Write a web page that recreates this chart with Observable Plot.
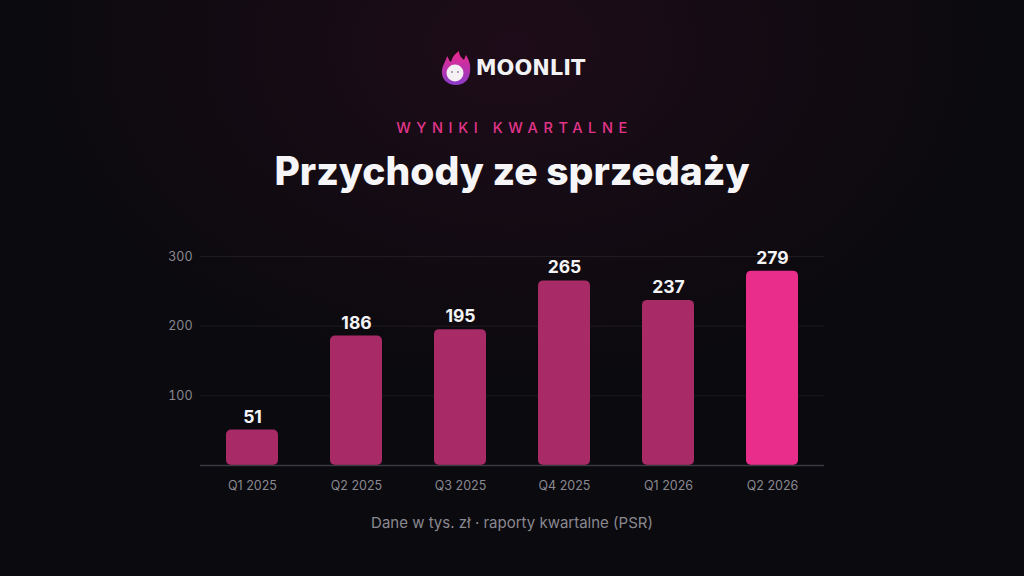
<!DOCTYPE html>
<html>
<head>
<meta charset="utf-8">
<script src="https://cdn.jsdelivr.net/npm/d3@7"></script>
<script src="https://cdn.jsdelivr.net/npm/@observablehq/plot@0.6"></script>
<style>
  html, body { margin: 0; padding: 0; }
  body { width: 1024px; height: 576px; overflow: hidden; background: #0b0a0e; font-family: Inter, "Noto Sans", sans-serif; }
  #page { position: relative; width: 1024px; height: 576px;
    background: radial-gradient(ellipse 480px 340px at 50% 8%, rgba(60,16,42,0.38), rgba(11,10,14,0) 100%), #0b0a0e; }
  #logo { position: absolute; top: 50px; left: 0; width: 1024px; display: flex; justify-content: center; align-items: center; gap: 3px; }
  #logo span { color: #f2f2f4; font-family: "DejaVu Sans", sans-serif; font-weight: bold; font-size: 21px; letter-spacing: 0px; }
  #kicker { position: absolute; top: 119px; width: 1024px; text-align: center; color: #e0358a; font-size: 14.5px; letter-spacing: 5.6px; font-weight: 500; padding-left: 5px; box-sizing: border-box; }
  #title { position: absolute; top: 147px; width: 1024px; text-align: center; color: #f6f6f8; font-size: 39px; font-weight: 800; letter-spacing: 0px; }
  #chart { position: absolute; top: 230px; left: 0; }
  #caption { position: absolute; top: 513px; width: 1024px; text-align: center; color: #8a8991; font-size: 15px; }
</style>
</head>
<body>
<div id="page">
  <div id="logo">
    <svg width="34" height="36" viewBox="0 0 34 36">
      <defs>
        <linearGradient id="fl" x1="0" y1="0" x2="0" y2="1">
          <stop offset="0" stop-color="#f0288c"/>
          <stop offset="1" stop-color="#8a3cc8"/>
        </linearGradient>
      </defs>
      <path d="M17 35 C7 35 2 28 3 20 C4 14 7 11 8 6 C10 9 10 11 12 12 C13 7 16 4 20 1 C20 6 23 8 25 10 C26 8 26 6 27 5 C30 10 32 15 31 22 C30 30 25 35 17 35 Z" fill="url(#fl)"/>
      <circle cx="16" cy="23" r="8.5" fill="#f4f0f4"/>
      <circle cx="13" cy="22" r="1" fill="#9a8a9a"/>
      <circle cx="19" cy="22" r="1" fill="#9a8a9a"/>
    </svg>
    <span>MOONLIT</span>
  </div>
  <div id="kicker">WYNIKI KWARTALNE</div>
  <div id="title">Przychody ze sprzedaży</div>
  <div id="chart"></div>
  <div id="caption">Dane w tys. zł · raporty kwartalne (PSR)</div>
</div>
<script>
const quarters = ["Q1 2025", "Q2 2025", "Q3 2025", "Q4 2025", "Q1 2026", "Q2 2026"];
const revenue = [51, 186, 195, 265, 237, 279];
const highlight = "Q2 2026";
const yTicks = [100, 200, 300];

const data = quarters.map((q, i) => ({quarter: q, value: revenue[i]}));

const chart = Plot.plot({
  width: 1024,
  height: 270,
  marginLeft: 200,
  marginRight: 200,
  marginTop: 26,
  marginBottom: 35,
  style: {background: "transparent", color: "#8a8991", fontFamily: "Inter, 'Noto Sans', sans-serif", fontSize: "12.5px"},
  x: {domain: quarters, paddingInner: 0.5, paddingOuter: 0.25, label: null, tickSize: 0, tickPadding: 16},
  y: {domain: [0, 300], ticks: yTicks, label: null, tickSize: 0, tickPadding: 8},
  marks: [
    Plot.gridY(yTicks, {stroke: "#ffffff", strokeOpacity: 0.07}),
    Plot.barY(data, {x: "quarter", y: "value", fill: d => d.quarter === highlight ? "#e82e8a" : "#a82a67", rx: 5}),
    Plot.ruleY([0], {stroke: "#3b3a42", strokeWidth: 1.5}),
    Plot.text(data, {x: "quarter", y: "value", text: d => String(d.value), dy: -13, fill: "#f4f4f6", fontSize: 17.5, fontWeight: "bold"})
  ]
});
document.getElementById("chart").appendChild(chart);
</script>
</body>
</html>
